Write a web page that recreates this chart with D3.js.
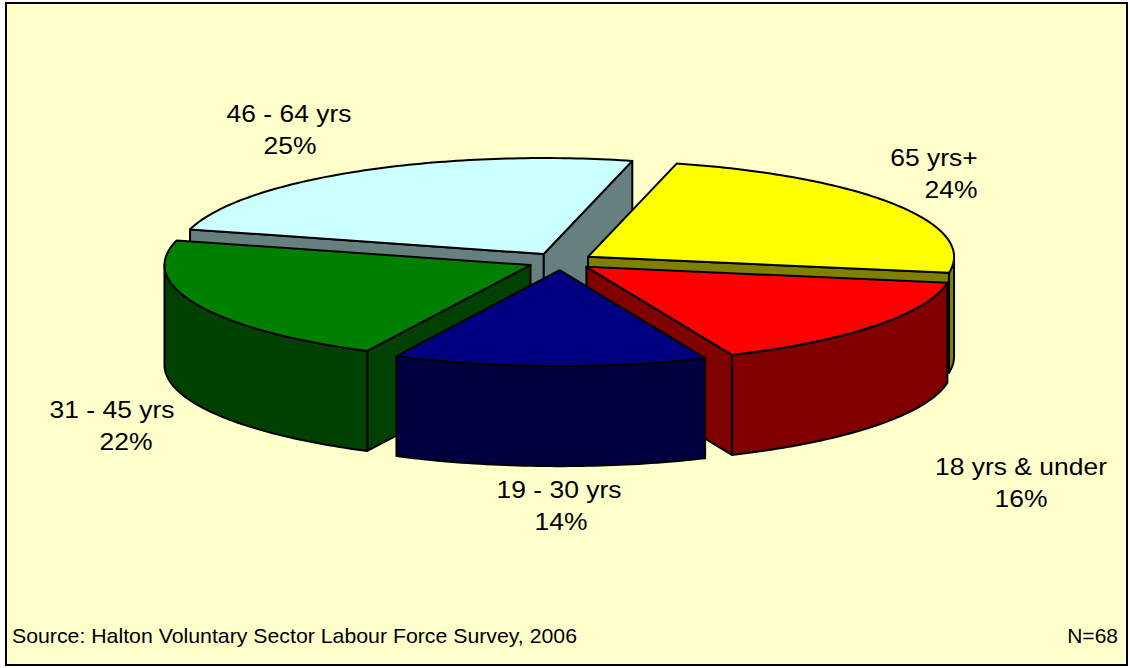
<!DOCTYPE html>
<html>
<head>
<meta charset="utf-8">
<script src="https://cdn.jsdelivr.net/npm/d3@7"></script>
<style>
  html, body { margin: 0; padding: 0; background: #ffffff; }
  svg { display: block; }
  text { font-family: "Liberation Sans", Arial, sans-serif; fill: #000; }
</style>
</head>
<body>
<svg id="chart" width="1130" height="668"></svg>
<script>
// Age bands of the workforce, clockwise from the first slice
const categories = ["65 yrs+", "18 yrs & under", "19 - 30 yrs", "31 - 45 yrs", "46 - 64 yrs"];
const percentages = [24, 16, 14, 22, 25];
const topColors  = ["#FFFF00", "#FF0000", "#000080", "#008000", "#CCFFFF"];
const sideColors = ["#808000", "#800000", "#000040", "#004000", "#668080"];
const sourceNote = "Source: Halton Voluntary Sector Labour Force Survey, 2006";
const sampleNote = "N=68";

const W = 1130, H = 668;
const svg = d3.select("#chart");

// chart area
svg.append("rect")
  .attr("x", 6).attr("y", 3).attr("width", W - 9).attr("height", H - 6)
  .attr("fill", "#FFFFCC").attr("stroke", "#000").attr("stroke-width", 2);

// 3-D pie geometry (orthographic tilt)
const cx = 560.5, cy = 261.5;     // pie centre, top face
const rx = 366, ry = 96;          // top-face ellipse radii
const depth = 100;                // slab thickness
const explode = 0.09;             // explosion as a fraction of the radius
const startDeg = 14;
const rad = d => d * Math.PI / 180;

const pie = d3.pie().sort(null).value(d => d)
  .startAngle(rad(startDeg)).endAngle(rad(startDeg) + 2 * Math.PI);
const arcs = pie(percentages).map((a, i) => {
  const mid = (a.startAngle + a.endAngle) / 2;
  return Object.assign(a, {
    i, mid,
    off: [explode * rx * Math.sin(mid), -explode * ry * Math.cos(mid)]
  });
});

const line = d3.line();
function pt(a, r, z, off) {
  return [cx + off[0] + r * rx * Math.sin(a), cy + off[1] - r * ry * Math.cos(a) + z];
}
function arcPts(a0, a1, z, off) {
  const n = Math.max(2, Math.ceil(Math.abs(a1 - a0) / rad(1)));
  return d3.range(n + 1).map(k => pt(a0 + (a1 - a0) * k / n, 1, z, off));
}

const pieG = svg.append("g").attr("class", "pie")
  .attr("stroke", "#000").attr("stroke-width", 2).attr("stroke-linejoin", "round");

// paint back slices first
const order = arcs.slice().sort((a, b) => a.off[1] - b.off[1]);

order.forEach(s => {
  const g = pieG.append("g");
  const side = sideColors[s.i], top = topColors[s.i];
  const c0 = pt(0, 0, 0, s.off), c1 = pt(0, 0, depth, s.off);

  // radial cut faces that face the viewer
  const faces = [
    { a: s.startAngle, n: s.startAngle - Math.PI / 2 },
    { a: s.endAngle,   n: s.endAngle + Math.PI / 2 }
  ];
  faces.forEach(f => {
    if (Math.cos(f.n) < -1e-6) {
      const quad = [c0, pt(f.a, 1, 0, s.off), pt(f.a, 1, depth, s.off), c1];
      g.append("path").attr("d", line(quad) + "Z").attr("fill", side);
    }
  });

  // outer rim where it faces the front
  [[Math.PI / 2, 3 * Math.PI / 2], [5 * Math.PI / 2, 7 * Math.PI / 2]].forEach(([lo, hi]) => {
    const a0 = Math.max(lo, s.startAngle), a1 = Math.min(hi, s.endAngle);
    if (a1 > a0) {
      const pts = arcPts(a0, a1, 0, s.off).concat(arcPts(a1, a0, depth, s.off));
      g.append("path").attr("d", line(pts) + "Z").attr("fill", side);
    }
  });

  // top face
  const topPts = [c0].concat(arcPts(s.startAngle, s.endAngle, 0, s.off));
  g.append("path").attr("d", line(topPts) + "Z").attr("fill", top);
});

// data labels: name line and percentage line
const labelAnchor = [
  { x: 934, y: 166, dx: 17 },
  { x: 1021, y: 475, dx: 0 },
  { x: 559, y: 498, dx: 2 },
  { x: 112, y: 418, dx: 14 },
  { x: 289, y: 122, dx: 1 }
];
const lbl = svg.append("g").attr("class", "labels").attr("font-size", 23);
arcs.forEach(s => {
  const p = labelAnchor[s.i];
  lbl.append("text").attr("text-anchor", "middle")
    .attr("transform", `translate(${p.x},${p.y}) scale(1.15,1)`)
    .text(categories[s.i]);
  lbl.append("text").attr("text-anchor", "middle")
    .attr("transform", `translate(${p.x + p.dx},${p.y + 32}) scale(1.15,1)`)
    .text(percentages[s.i] + "%");
});

// footnotes
svg.append("text").attr("x", 12).attr("y", 643).attr("font-size", 21)
  .attr("textLength", 565).attr("lengthAdjust", "spacingAndGlyphs").text(sourceNote);
svg.append("text").attr("x", 1118).attr("y", 643).attr("font-size", 21)
  .attr("text-anchor", "end").text(sampleNote);
</script>
</body>
</html>
